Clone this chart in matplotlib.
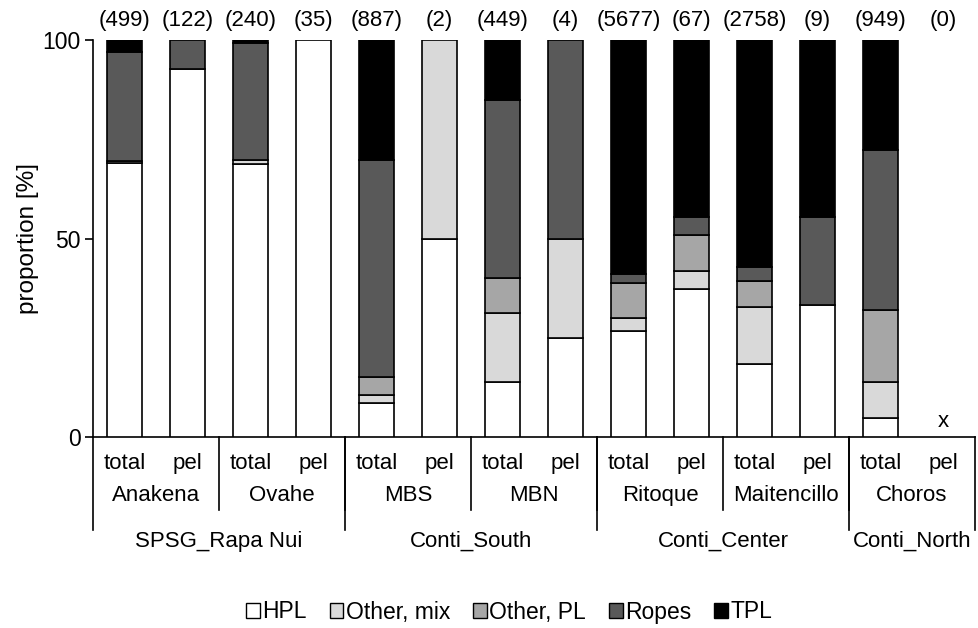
import numpy as np
import matplotlib.pyplot as plt
from matplotlib.patches import Patch

plt.rcParams['font.family'] = ['Liberation Sans', 'DejaVu Sans']
plt.rcParams['font.size'] = 16

# data: percentages per bar (total / pel for each site)
bar_labels = ['total', 'pel'] * 7
sites = ['Anakena', 'Ovahe', 'MBS', 'MBN', 'Ritoque', 'Maitencillo', 'Choros']
regions = ['SPSG_Rapa Nui', 'Conti_South', 'Conti_Center', 'Conti_North']
region_sites = [2, 2, 2, 1]
counts = ['(499)', '(122)', '(240)', '(35)', '(887)', '(2)', '(449)', '(4)',
          '(5677)', '(67)', '(2758)', '(9)', '(949)', '(0)']

hpl = [69.1, 92.8, 68.8, 100, 8.6, 50, 13.9, 25, 26.6, 37.3, 18.4, 33.3, 4.8, 0]
other_mix = [0.4, 0, 1.0, 0, 2.1, 50, 17.4, 25, 3.3, 4.5, 14.4, 0, 9.1, 0]
other_pl = [0, 0, 0, 0, 4.3, 0, 8.7, 0, 9.0, 9.0, 6.4, 0, 18.1, 0]
ropes = [27.5, 7.2, 29.5, 0, 54.8, 0, 44.9, 50, 2.2, 4.5, 3.5, 22.2, 40.3, 0]
tpl = [3.0, 0, 0.7, 0, 30.2, 0, 15.1, 0, 58.9, 44.7, 57.3, 44.5, 27.7, 0]

series = [('HPL', hpl, '#ffffff'),
          ('Other, mix', other_mix, '#d9d9d9'),
          ('Other, PL', other_pl, '#a6a6a6'),
          ('Ropes', ropes, '#595959'),
          ('TPL', tpl, '#000000')]

fig = plt.figure(figsize=(9.79, 6.28), dpi=100)
ax = fig.add_axes([93/979, 1-437/628, 882/979, 397/628])

x = np.arange(len(bar_labels))
bottom = np.zeros(len(x))
for name, vals, col in series:
    vals = np.array(vals, dtype=float)
    m = vals > 0
    ax.bar(x[m], vals[m], 0.54, bottom=bottom[m], color=col,
           edgecolor='black', linewidth=1.2, zorder=3)
    bottom += vals

total = bottom
for i, c in enumerate(counts):
    ax.text(x[i], 1.048, c, transform=ax.get_xaxis_transform(),
            ha='center', va='center')
    if total[i] == 0:
        ax.text(x[i], 4, 'x', ha='center', va='center')

ax.set_xlim(-0.5, 13.5)
ax.set_ylim(0, 100)
ax.set_yticks([0, 50, 100])
ax.set_ylabel('proportion [%]', fontsize=17.5, labelpad=2)
ax.set_xticks([])
for s in ['top', 'right']:
    ax.spines[s].set_visible(False)
ax.spines['left'].set_linewidth(1.2)
ax.spines['bottom'].set_linewidth(1.2)
ax.tick_params(axis='y', length=6, width=1.2, pad=3, labelsize=16.5)

# hierarchical x labels
tr = ax.get_xaxis_transform()
for i, lab in enumerate(bar_labels):
    ax.text(x[i], -0.068, lab, transform=tr, ha='center', va='center')
for j, s in enumerate(sites):
    ax.text(2*j + 0.5, -0.148, s, transform=tr, ha='center', va='center')
    if j > 0:
        ax.plot([2*j - 0.5]*2, [0, -0.184], transform=tr, color='black',
                lw=1.2, clip_on=False)
start = 0
for r, n in zip(regions, region_sites):
    end = start + 2*n
    ax.text((start + end - 1) / 2, -0.263, r, transform=tr,
            ha='center', va='center')
    ax.plot([start - 0.5]*2, [0, -0.234], transform=tr, color='black',
            lw=1.2, clip_on=False)
    start = end
ax.plot([13.5]*2, [0, -0.234], transform=tr, color='black', lw=1.2, clip_on=False)

handles = [Patch(facecolor=col, edgecolor='black', label=name) for name, v, col in series]
fig.legend(handles=handles, loc='center', bbox_to_anchor=(0.52, 1-612/628), ncol=5,
           frameon=False, handlelength=0.6, handleheight=0.6, handletextpad=0.1,
           columnspacing=1.0, fontsize=16.5)

plt.savefig('out.png', dpi=100)
plt.close()
